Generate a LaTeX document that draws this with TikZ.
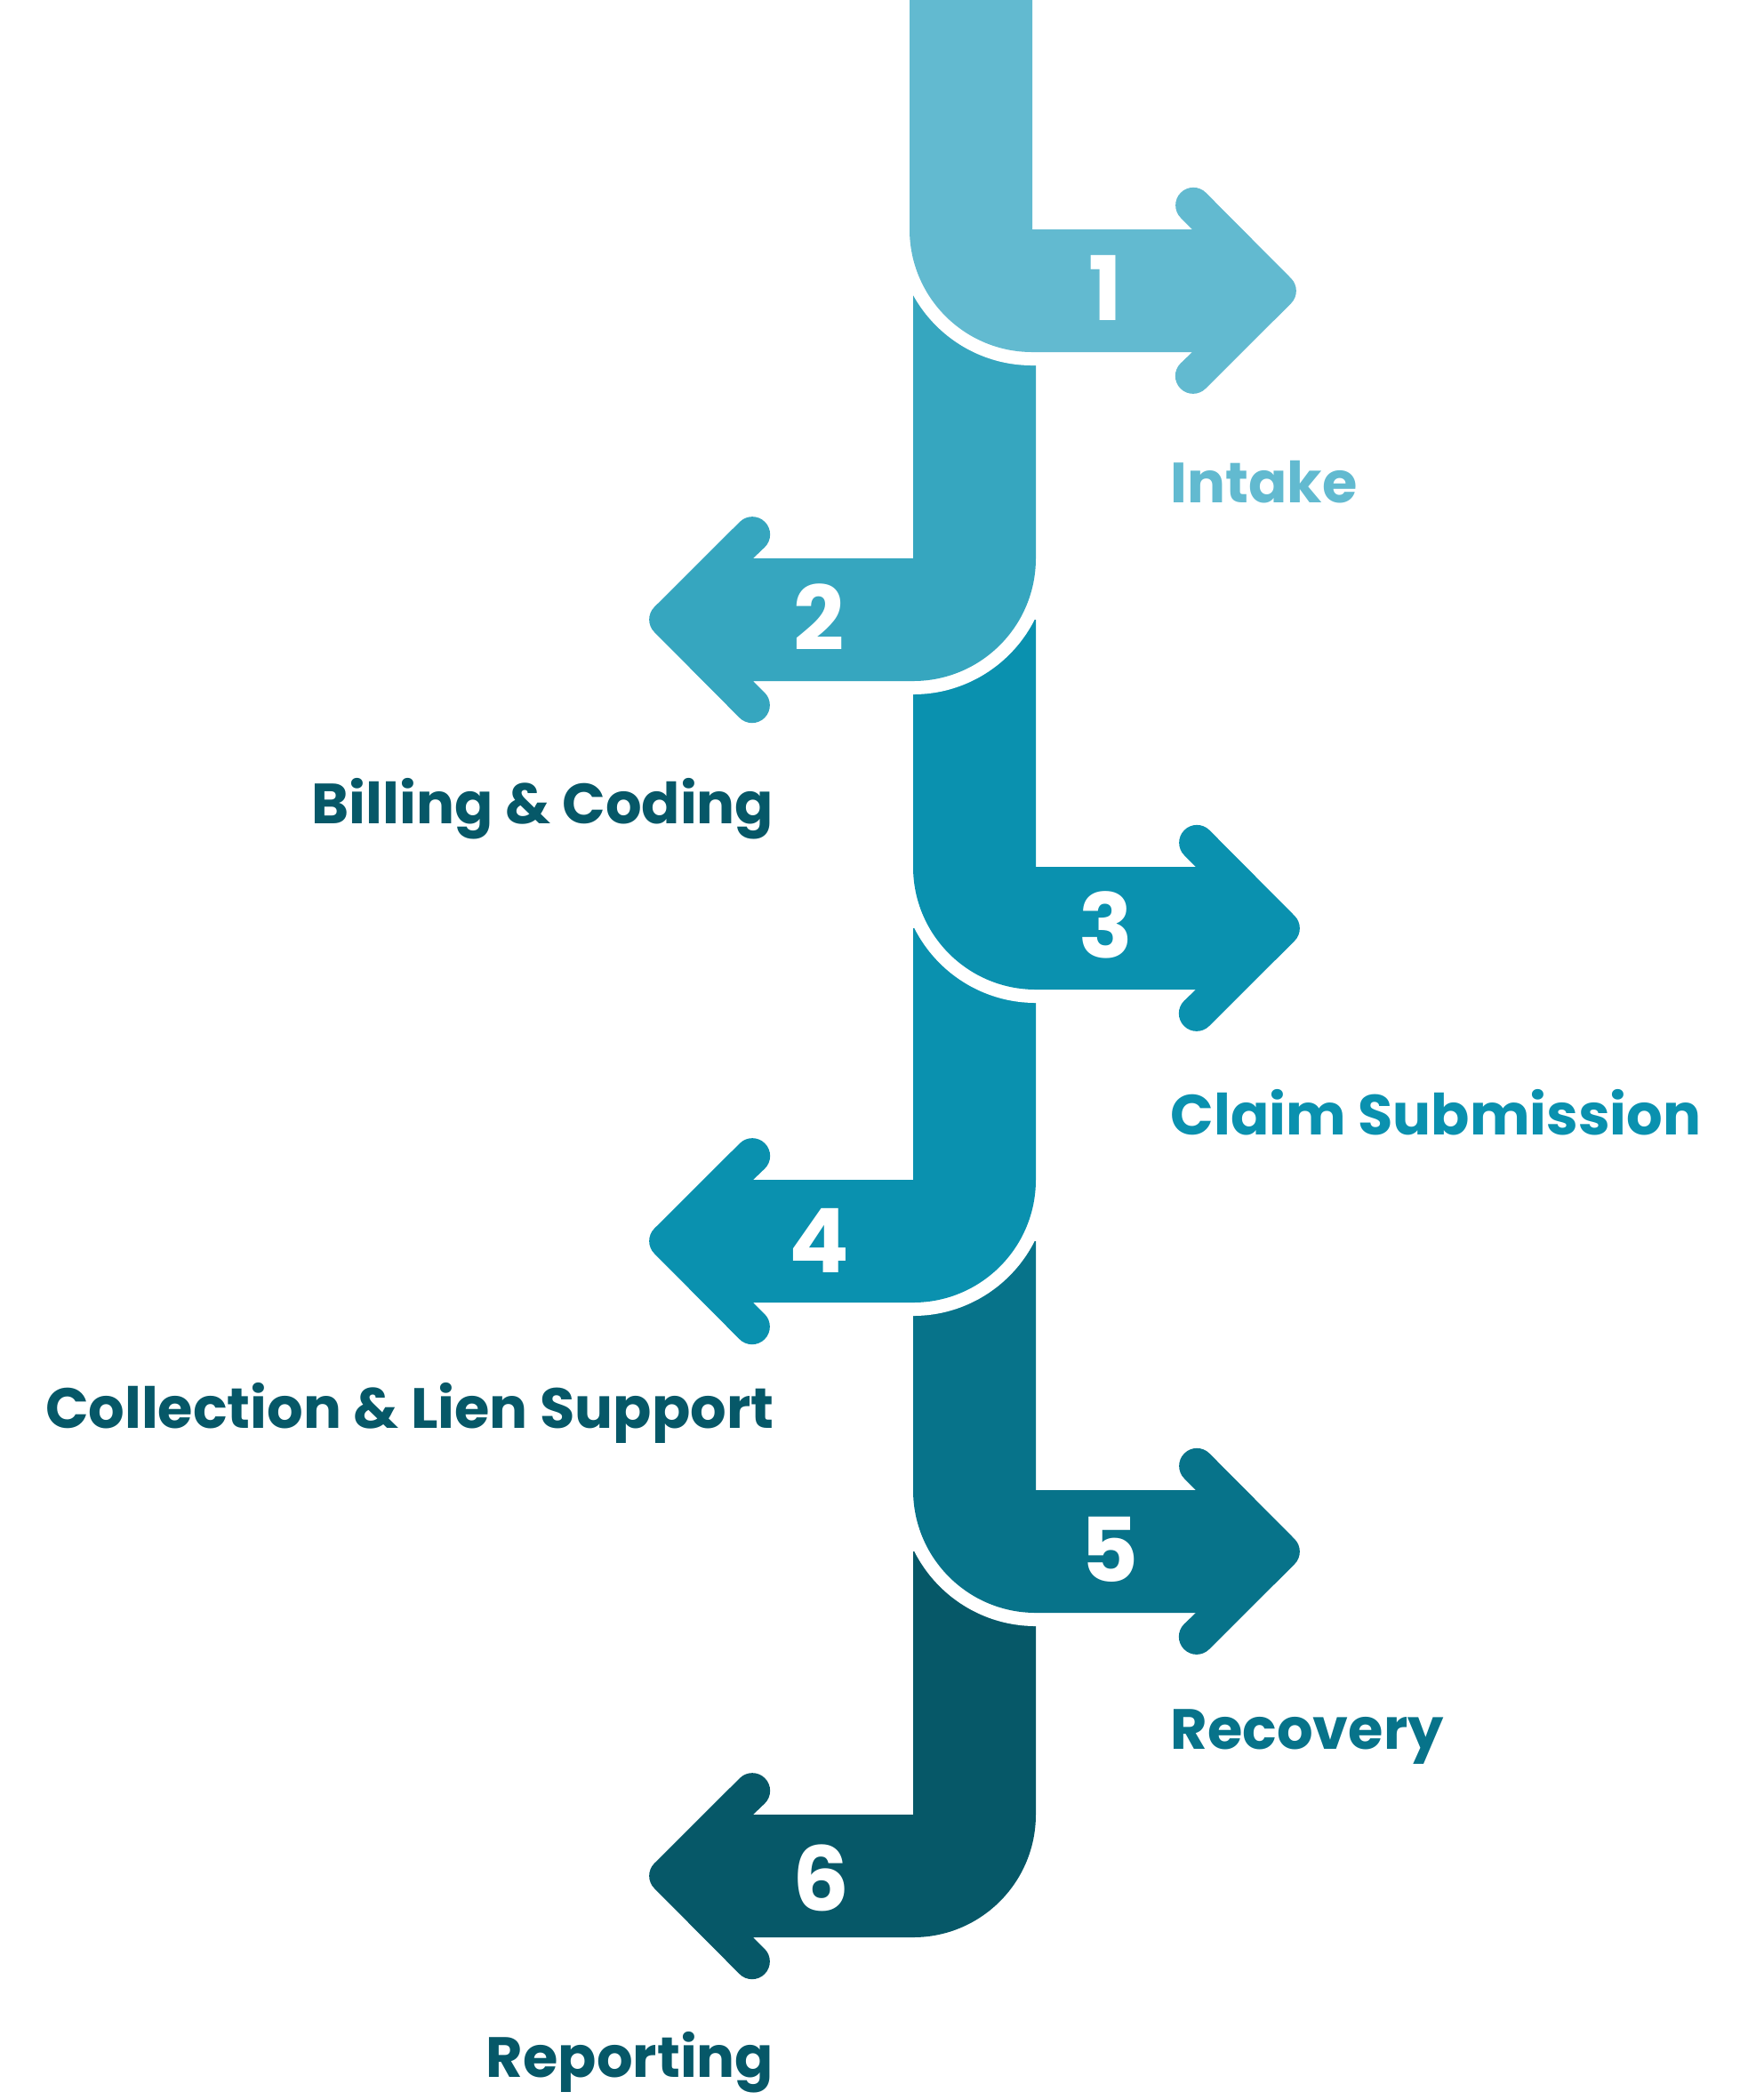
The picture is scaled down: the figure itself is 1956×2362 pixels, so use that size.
\documentclass[tikz,border=0pt]{standalone}
\usepackage{fontspec}
\setmainfont{Poppins}
\usepackage{tikz}
\definecolor{stepone}{HTML}{62BAD0}
\definecolor{steptwo}{HTML}{36A6BF}
\definecolor{stepthree}{HTML}{0A91AF}
\definecolor{stepfive}{HTML}{07738A}
\definecolor{stepsix}{HTML}{065868}

\begin{document}
\begin{tikzpicture}[
			x=0.01cm, y=-0.01cm,
			every node/.style={
					inner sep=0pt,
					font=\bfseries
				},
			whiteedge/.style={
					preaction={draw=white, line width=3mm, line join=round} % white gap below each bend
				},
			num/.style={text=white, font=\fontsize{28.5}{30}\selectfont\bfseries},
			lbl/.style={font=\fontsize{18.15}{22}\selectfont\bfseries}
		]
		\useasboundingbox (0,0) rectangle (1956,2362);
		\clip (0,0) rectangle (1956,2362);

		% step 6, pointing left
		\fill[stepsix, whiteedge]
		(1027,1745) -- (1165,1745) -- (1165,2041) arc[start angle=0, end angle=90, radius=138] --
		(847,2179) -- (860,2192) arc[start angle=-45, end angle=135, radius=20] --
		(736,2124) arc[start angle=135, end angle=225, radius=20] --
		(832,2000) arc[start angle=225, end angle=405, radius=20] --
		(847,2041) -- (1027,2041) -- cycle;

		% step 5, pointing right
		\fill[stepfive, whiteedge]
		(1027,1396) -- (1165,1396) -- (1165,1676) -- (1345,1676) --
		(1332,1663) arc[start angle=135, end angle=315, radius=20] --
		(1456,1731) arc[start angle=-45, end angle=45, radius=20] --
		(1360,1855) arc[start angle=45, end angle=225, radius=20] --
		(1345,1814) -- (1165,1814) arc[start angle=90, end angle=180, radius=138] -- cycle;

		% step 4, pointing left
		\fill[stepthree, whiteedge]
		(1027,1044) -- (1165,1044) -- (1165,1327) arc[start angle=0, end angle=90, radius=138] --
		(847,1465) -- (860,1478) arc[start angle=-45, end angle=135, radius=20] --
		(736,1410) arc[start angle=135, end angle=225, radius=20] --
		(832,1286) arc[start angle=225, end angle=405, radius=20] --
		(847,1327) -- (1027,1327) -- cycle;

		% step 3, pointing right
		\fill[stepthree, whiteedge]
		(1027,697) -- (1165,697) -- (1165,975) -- (1345,975) --
		(1332,962) arc[start angle=135, end angle=315, radius=20] --
		(1456,1030) arc[start angle=-45, end angle=45, radius=20] --
		(1360,1154) arc[start angle=45, end angle=225, radius=20] --
		(1345,1113) -- (1165,1113) arc[start angle=90, end angle=180, radius=138] -- cycle;

		% step 2, pointing left
		\fill[steptwo, whiteedge]
		(1027,327) -- (1165,327) -- (1165,628) arc[start angle=0, end angle=90, radius=138] --
		(847,766) -- (860,779) arc[start angle=-45, end angle=135, radius=20] --
		(736,711) arc[start angle=135, end angle=225, radius=20] --
		(832,587) arc[start angle=225, end angle=405, radius=20] --
		(847,628) -- (1027,628) -- cycle;

		% step 1, pointing right, a little to the left
		\begin{scope}[xshift=-0.4mm]
			\fill[stepone, whiteedge]
			(1027,-40) -- (1165,-40) -- (1165,258) -- (1345,258) --
			(1332,245) arc[start angle=135, end angle=315, radius=20] --
			(1456,313) arc[start angle=-45, end angle=45, radius=20] --
			(1360,437) arc[start angle=45, end angle=225, radius=20] --
			(1345,396) -- (1165,396) arc[start angle=90, end angle=180, radius=138] -- cycle;
		\end{scope}

		\node[num] (n1) at (1243,324) {1};
		\node[num] (n2) at (921,694) {2};
		\node[num] (n3) at (1244,1040) {3};
		\node[num] (n4) at (921,1395) {4};
		\node[num] (n5) at (1248,1743) {5};
		\node[num] (n6) at (923,2112) {6};

		\node[lbl, text=stepone, anchor=base west] (intake) at (1316,565) {Intake};
		\node[lbl, text=stepsix, anchor=base east] (billing) at (871,926) {Billing \& Coding};
		\node[lbl, text=stepthree, anchor=base west] (claim) at (1316,1276) {Claim Submission};
		\node[lbl, text=stepsix, anchor=base east] (collection) at (871,1606) {Collection \& Lien Support};
		\node[lbl, text=stepfive, anchor=base west] (recovery) at (1316,1967) {Recovery};
		\node[lbl, text=stepsix, anchor=base east] (reporting) at (871,2336) {Reporting};
	\end{tikzpicture}
\end{document}
